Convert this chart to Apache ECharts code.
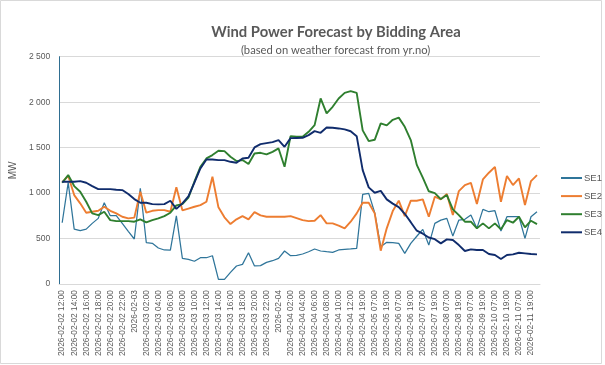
<!DOCTYPE html>
<html>
<head>
<meta charset="utf-8">
<script src="https://cdn.jsdelivr.net/npm/echarts@6/dist/echarts.min.js"></script>
<style>
html,body{margin:0;padding:0;background:#fff;}
#c{width:605px;height:365px;}
</style>
</head>
<body>
<div id="c"></div>
<script>
var categories = [
"2026-02-02 12:00","2026-02-02 13:00","2026-02-02 14:00","2026-02-02 15:00","2026-02-02 16:00","2026-02-02 17:00",
"2026-02-02 18:00","2026-02-02 19:00","2026-02-02 20:00","2026-02-02 21:00","2026-02-02 22:00","2026-02-02 23:00",
"2026-02-03","2026-02-03 01:00","2026-02-03 02:00","2026-02-03 03:00","2026-02-03 04:00","2026-02-03 05:00",
"2026-02-03 06:00","2026-02-03 07:00","2026-02-03 08:00","2026-02-03 09:00","2026-02-03 10:00","2026-02-03 11:00",
"2026-02-03 12:00","2026-02-03 13:00","2026-02-03 14:00","2026-02-03 15:00","2026-02-03 16:00","2026-02-03 17:00",
"2026-02-03 18:00","2026-02-03 19:00","2026-02-03 20:00","2026-02-03 21:00","2026-02-03 22:00","2026-02-03 23:00",
"2026-02-04","2026-02-04 01:00","2026-02-04 02:00","2026-02-04 03:00","2026-02-04 04:00","2026-02-04 05:00",
"2026-02-04 06:00","2026-02-04 07:00","2026-02-04 08:00","2026-02-04 09:00","2026-02-04 10:00","2026-02-04 11:00",
"2026-02-04 12:00","2026-02-04 13:00",
"2026-02-04 19:00","2026-02-05 01:00","2026-02-05 07:00","2026-02-05 13:00","2026-02-05 19:00",
"2026-02-06 01:00","2026-02-06 07:00","2026-02-06 13:00","2026-02-06 19:00",
"2026-02-07 01:00","2026-02-07 07:00","2026-02-07 13:00","2026-02-07 19:00",
"2026-02-08 01:00","2026-02-08 07:00","2026-02-08 13:00","2026-02-08 19:00",
"2026-02-09 01:00","2026-02-09 07:00","2026-02-09 13:00","2026-02-09 19:00",
"2026-02-10 01:00","2026-02-10 07:00","2026-02-10 13:00","2026-02-10 19:00",
"2026-02-11 01:00","2026-02-11 07:00","2026-02-11 13:00","2026-02-11 19:00",
"2026-02-12 01:00"
];

var se1 = [674,1115,604,586,604,667,722,894,751,751,667,580,495,1052,454,447,396,374,373,750,
282,270,250,289,289,311,51,51,128,198,216,344,198,202,238,256,282,363,311,315,
330,355,385,363,355,348,374,381,385,392,986,997,784,410,458,454,447,337,447,525,
601,428,667,703,722,527,703,711,758,612,821,795,806,582,740,740,740,502,740,795];

var se2 = [1117,1190,978,887,784,795,805,850,805,777,740,722,730,1015,784,805,812,812,795,1063,
810,830,850,868,905,1179,843,733,659,711,747,711,791,755,740,740,740,740,747,725,
703,692,696,758,667,667,641,612,685,777,894,894,777,366,612,802,916,747,916,916,
931,740,960,931,989,758,1022,1088,1113,879,1150,1224,1289,905,1187,1088,1161,868,1132,1198];

var se3 = [1114,1198,1077,1015,905,777,758,795,703,692,692,692,685,711,678,703,722,747,784,865,
878,950,1125,1289,1381,1418,1465,1462,1399,1352,1363,1319,1436,1443,1425,1454,1491,1289,1626,1619,
1619,1674,1747,2041,1876,1949,2041,2102,2121,2102,1690,1572,1586,1766,1745,1806,1830,1729,1583,1310,
1170,1020,1000,934,978,821,758,685,685,612,667,612,667,601,703,674,740,623,696,659];

var se4 = [1125,1125,1125,1132,1114,1077,1044,1044,1044,1037,1033,989,934,894,894,879,876,879,916,826,
887,964,1115,1271,1370,1370,1363,1363,1344,1333,1381,1388,1502,1539,1550,1561,1583,1509,1604,1606,
1608,1637,1681,1663,1722,1718,1711,1700,1680,1626,1253,1063,1004,1024,931,884,845,772,680,586,
553,511,493,447,491,484,428,363,381,374,374,330,319,275,319,326,344,337,330,326];

var seriesNames = ["SE1","SE2","SE3","SE4"];
var seriesColors = ["#2F759A","#ED7D31","#2F7F2F","#102C6C"];

var chart = echarts.init(document.getElementById('c'), null, {renderer:'canvas'});
var txt = '#595959';
function fmt(v){ return String(v).replace(/\B(?=(\d{3})+(?!\d))/g, ' '); }

var dataSets = [se1, se2, se3, se4];
var widths = [1.25, 1.9, 1.9, 1.9];

chart.setOption({
  animation:false,
  backgroundColor:'#ffffff',
  graphic:[
    {type:'rect', shape:{x:0.5,y:0.5,width:601,height:363}, style:{fill:'none',stroke:'#d9d9d9',lineWidth:1}, silent:true, z:-1},
    {type:'text', x:336, y:32, style:{text:'Wind Power Forecast by Bidding Area', fill:txt, font:'bold 14.8px Lato, "Liberation Sans", sans-serif', textAlign:'center', textVerticalAlign:'middle'}},
    {type:'text', x:335.5, y:50, style:{text:'(based on weather forecast from yr.no)', fill:txt, font:'11.2px Lato, "Liberation Sans", sans-serif', textAlign:'center', textVerticalAlign:'middle'}}
  ],
  legend:{
    orient:'vertical', left:556, top:167,
    icon:'rect', itemWidth:21, itemHeight:2, itemGap:6.1,
    textStyle:{color:txt, fontSize:9.5, fontFamily:'"Liberation Sans", sans-serif', lineHeight:12, padding:[0,0,0,-3]},
    data:seriesNames
  },
  grid:{left:59, right:65, top:56.7, bottom:81, containLabel:false},
  xAxis:{
    type:'category', data:categories, boundaryGap:true,
    axisTick:{show:false},
    axisLine:{lineStyle:{color:'#d9d9d9', width:1}},
    axisLabel:{rotate:90, interval:1, color:txt, fontSize:8.4, fontFamily:'"Liberation Sans", sans-serif', margin:6}
  },
  yAxis:{
    type:'value', min:0, max:2500, interval:500,
    name:'MW', nameLocation:'middle', nameGap:31, nameRotate:90,
    nameTextStyle:{color:txt, fontSize:10, fontFamily:'"Liberation Sans", sans-serif'},
    axisLine:{show:true, lineStyle:{color:'#2F6E91', width:1}},
    axisTick:{show:false},
    splitLine:{lineStyle:{color:'#d9d9d9', width:1}},
    axisLabel:{color:txt, fontSize:8.5, fontFamily:'"Liberation Sans", sans-serif', margin:9, formatter:fmt}
  },
  series: seriesNames.map(function(n,k){
    return {name:n, type:'line', data:dataSets[k], symbol:'none', showSymbol:false,
      lineStyle:{color:seriesColors[k], width:widths[k]}, itemStyle:{color:seriesColors[k]}, z:2+k};
  })
});
</script>
</body>
</html>
